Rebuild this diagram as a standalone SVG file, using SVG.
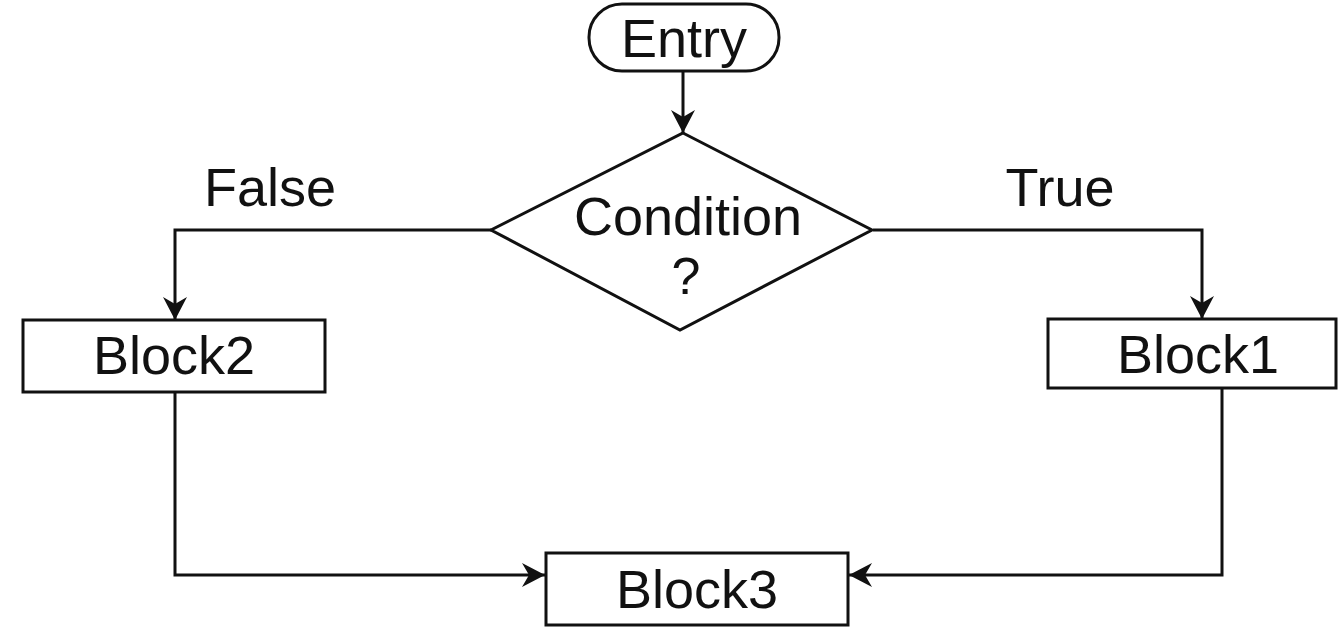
<svg xmlns="http://www.w3.org/2000/svg" width="1338" height="628" viewBox="0 0 1338 628">
<style>
.s{fill:#fff;stroke:#111;stroke-width:3}
.c{fill:none;stroke:#111;stroke-width:3;marker-end:url(#a)}
text{font-family:"Liberation Sans",Arial,sans-serif;font-size:54px;fill:#111;text-anchor:middle}
</style>
<defs>
<marker id="a" viewBox="0 0 23 24" refX="23" refY="12" markerWidth="23" markerHeight="24" markerUnits="userSpaceOnUse" orient="auto">
<path d="M0,0 L23,12 L0,24 L7,12 Z" fill="#111"/>
</marker>
</defs>
<rect width="1338" height="628" fill="#fff"/>
<g id="connectors">
<path class="c" d="M683,72 V133"/>
<path class="c" d="M491,230 H175 V320"/>
<path class="c" d="M873,230 H1202 V319"/>
<path class="c" d="M175,392 V575 H545"/>
<path class="c" d="M1222,388 V575 H849"/>
</g>
<g id="entry">
<rect class="s" x="589" y="4" width="190" height="67" rx="33" ry="33"/>
<text x="684" y="57">Entry</text>
</g>
<g id="condition">
<polygon class="s" points="683,133 872,230 680,330 491,230"/>
<text x="688" y="235">Condition</text>
<text x="686" y="294" style="font-size:52px">?</text>
</g>
<g id="block2">
<rect class="s" x="23" y="320" width="302" height="72"/>
<text x="174" y="374">Block2</text>
</g>
<g id="block1">
<rect class="s" x="1048" y="319" width="288" height="69"/>
<text x="1198" y="373">Block1</text>
</g>
<g id="block3">
<rect class="s" x="546" y="553" width="302" height="72"/>
<text x="697" y="608">Block3</text>
</g>
<g id="labels">
<text x="270" y="206">False</text>
<text x="1060" y="206">True</text>
</g>
</svg>
